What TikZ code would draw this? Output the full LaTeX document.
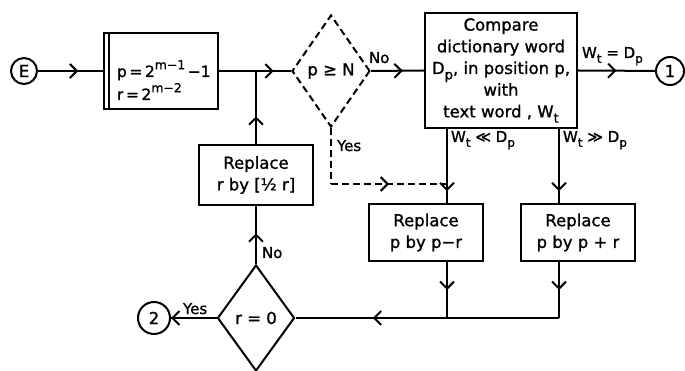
\documentclass[tikz,border=0pt]{standalone}
\usepackage{fontspec}
\usepackage{graphicx}
\setmainfont[FakeBold=1.2]{DejaVu Sans}
\newcommand\mysub[1]{\raisebox{-0.32em}{\scalebox{0.8}{#1}}}
\newcommand\mysup[1]{\raisebox{0.5em}{\scalebox{0.8}{#1}}}
\usetikzlibrary{shapes.geometric,arrows.meta,decorations.markings}
\begin{document}
\begin{tikzpicture}[x=1pt,y=-1pt,line width=2pt,
  every node/.style={font=\fontsize{16.5}{21.7}\selectfont},
  lbl/.style={anchor=base west,inner sep=0,font=\fontsize{15}{17}\selectfont},
  box/.style={draw,rectangle,inner sep=0,align=center},
  dec/.style={draw,diamond,inner sep=0,aspect=0.7},
  term/.style={draw,circle,inner sep=0},
  dsh/.style={dash pattern=on 7pt off 4pt},
  midarr/.style={postaction={decorate,decoration={markings,
     mark=at position #1 with {\arrow{Straight Barb[length=7pt,width=14pt]}}}}}]
\useasboundingbox (0,0) rectangle (685,371);
% nodes
\node[term,minimum size=26pt] (e) at (24,71) {E};
\node[box,minimum width=114pt,minimum height=76pt] (init) at (161,71) {};
\draw ([xshift=6pt]init.north west) -- ([xshift=6pt]init.south west);
\node[anchor=base west,inner sep=0,font=\fontsize{15.5}{18}\selectfont] (t1) at (116,77) {p\,=\,2\mysup{m−1}\,−1};
\node[anchor=base west,inner sep=0,font=\fontsize{15.5}{18}\selectfont] (t2) at (116,100) {r\,=\,2\mysup{m−2}};
\node[dec,dsh,minimum width=78pt,minimum height=112pt] (dec1) at (331,71) {p ≥ N};
\node[box,minimum width=152pt,minimum height=115pt] (cmp) at (501,70.5)
  {Compare\\dictionary word\\D\mysub{p}, in position p,\\with\\text word , W\mysub{t}};
\node[term,minimum size=28pt] (c1) at (670,71) {1};
\node[box,minimum width=114pt,minimum height=60pt] (replr) at (256,175) {Replace\\r by [½ r]};
\node[box,minimum width=114pt,minimum height=57pt] (repm) at (426,232.5) {Replace\\p by p−r};
\node[box,minimum width=114pt,minimum height=57pt] (repp) at (578,232.5) {Replace\\p by p + r};
\node[dec,minimum width=77pt,minimum height=106pt] (dec2) at (256,318) {r = 0};
\node[term,minimum size=32pt] (c2) at (154,318) {2};
% coordinates
\coordinate (j1) at (256,71);
\coordinate (yc) at (331,184);
\coordinate (lj) at (447,184);
\coordinate (bl) at (447,318);
\coordinate (br) at (559,318);
% connectors
\draw[midarr=0.62] (e) -- (init);
\draw[midarr=0.76] (init) -- (dec1.west);
\draw[midarr=0.6] (dec1.east) -- (cmp.west);
\draw[midarr=0.5] (cmp.east) -- (c1);
\draw[dsh] (dec1.south) -- (yc);
\draw[dsh,midarr=0.5] (yc) -- (lj);
\draw[midarr=0.84] (lj |- cmp.south) -- (lj |- repm.north);
\draw[midarr=0.84] (br |- cmp.south) -- (br |- repp.north);
\draw[midarr=0.5] (bl |- repm.south) -- (bl);
\draw[midarr=0.5] (br |- repp.south) -- (br);
\draw (br) -- (bl);
\draw[midarr=0.49] (bl) -- (dec2.east);
\draw[midarr=1] (dec2.west) -- (c2);
\draw[midarr=0.53] (dec2.north) -- (replr.south);
\draw[midarr=0.38] (replr.north) -- (j1);
% labels
\node[lbl] (lno1) at (368,63) {No};
\node[lbl] (leq) at (581,58) {W\mysub{t} = D\mysub{p}};
\node[lbl] (lyes1) at (336,151) {Yes};
\node[lbl] (lll) at (450,142) {W\mysub{t} ≪ D\mysub{p}};
\node[lbl] (lgg) at (562,142) {W\mysub{t} ≫ D\mysub{p}};
\node[lbl] (lyes2) at (182,314) {Yes};
\node[lbl] (lno2) at (261,258) {No};
\end{tikzpicture}
\end{document}
